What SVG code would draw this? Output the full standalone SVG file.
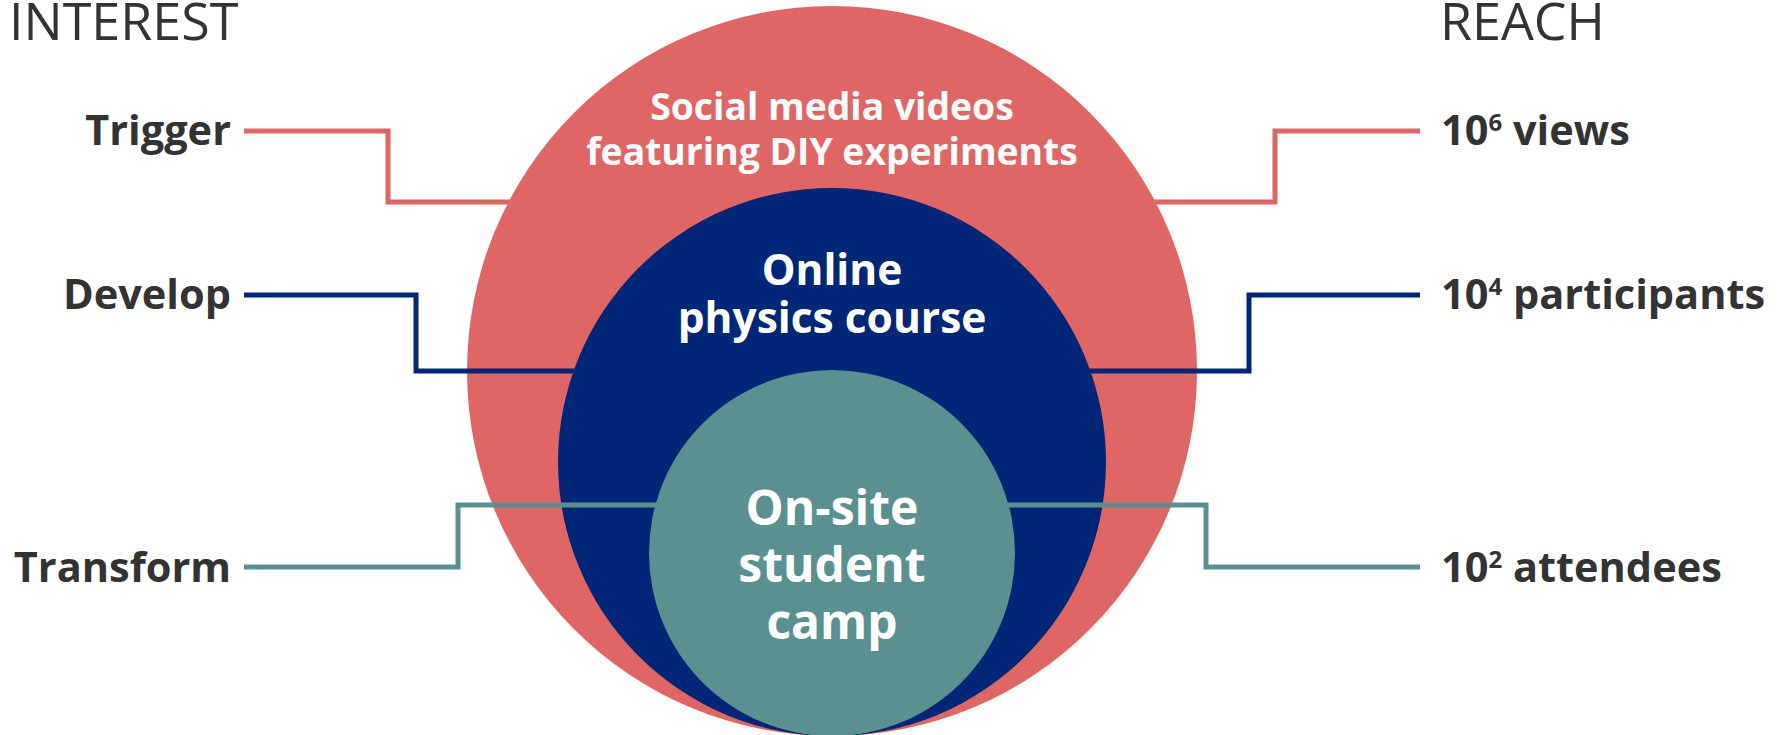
<svg xmlns="http://www.w3.org/2000/svg" width="1787" height="735" viewBox="0 0 1787 735">
<style>
.hdr{font-family:"Open Sans","Liberation Sans",sans-serif;font-weight:400;font-size:52px;fill:#333333}
.lbl{font-family:"Open Sans","Liberation Sans",sans-serif;font-weight:700;font-size:41.5px;fill:#333333}
.sup{font-size:24px}
.in{font-family:"Open Sans","Liberation Sans",sans-serif;font-weight:700;fill:#ffffff;text-anchor:middle}
.c{fill:none;stroke-width:5;stroke-linejoin:miter}
</style>
<rect width="1787" height="735" fill="#ffffff"/>
<text class="hdr" x="9" y="39.5">INTEREST</text>
<text class="hdr" x="1440" y="39.5">REACH</text>
<g id="outer">
<circle cx="832" cy="371" r="365" fill="#E06666"/>
<text class="in" font-size="37.3" x="832" y="120">Social media videos</text>
<text class="in" font-size="37.3" x="832" y="165">featuring DIY experiments</text>
</g>
<g id="middle">
<circle cx="832" cy="462" r="274" fill="#002677"/>
<text class="in" font-size="42.5" x="832" y="285">Online</text>
<text class="in" font-size="42.5" x="832" y="333">physics course</text>
</g>
<g id="inner">
<circle cx="832" cy="553" r="183" fill="#5A9190"/>
<text class="in" font-size="48" x="832" y="525">On-site</text>
<text class="in" font-size="48" x="832" y="582">student</text>
<text class="in" font-size="48" x="832" y="639">camp</text>
</g>
<g id="labels-left">
<text class="lbl" x="231" y="145" text-anchor="end">Trigger</text>
<text class="lbl" x="231" y="309" text-anchor="end">Develop</text>
<text class="lbl" x="231" y="582" text-anchor="end">Transform</text>
</g>
<g id="labels-right">
<text class="lbl" x="1441" y="145">10<tspan class="sup" dy="-14">6</tspan><tspan dy="14"> views</tspan></text>
<text class="lbl" x="1441" y="309">10<tspan class="sup" dy="-14">4</tspan><tspan dy="14"> participants</tspan></text>
<text class="lbl" x="1441" y="582">10<tspan class="sup" dy="-14">2</tspan><tspan dy="14"> attendees</tspan></text>
</g>
<g id="connectors">
<polyline class="c" stroke="#E06666" points="244,131 388,131 388,202 515,202"/>
<polyline class="c" stroke="#E06666" points="1150,202 1275,202 1275,131 1420,131"/>
<polyline class="c" stroke="#002677" points="244,295 416,295 416,371 580,371"/>
<polyline class="c" stroke="#002677" points="1085,371 1249,371 1249,295 1420,295"/>
<polyline class="c" stroke="#5A9190" points="244,567 458,567 458,505 662,505"/>
<polyline class="c" stroke="#5A9190" points="1002,505 1206,505 1206,567 1420,567"/>
</g>
</svg>
